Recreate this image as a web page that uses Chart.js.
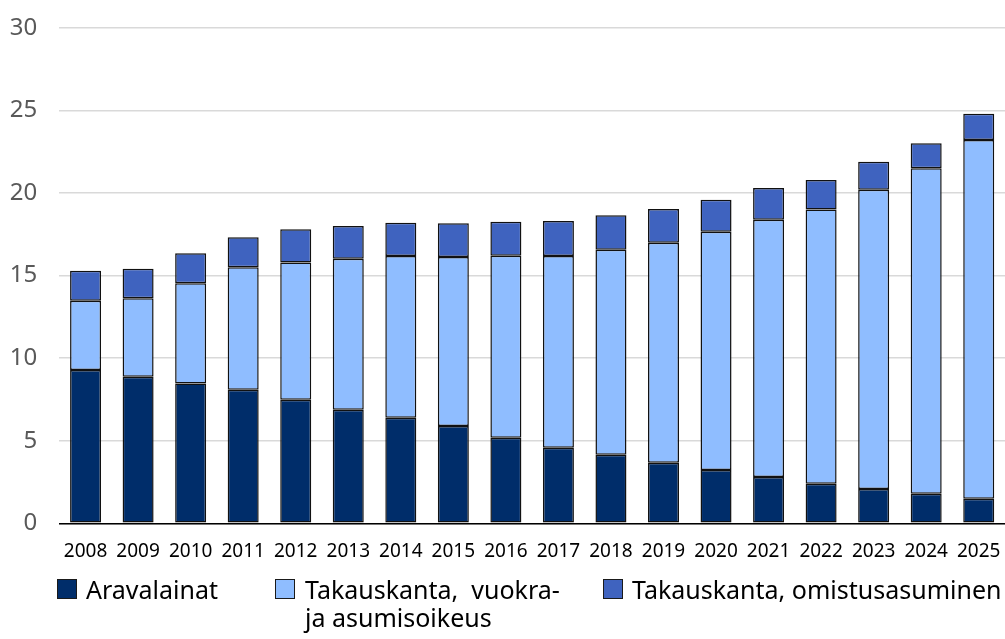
<!DOCTYPE html>
<html>
<head>
<meta charset="utf-8">
<script src="https://cdn.jsdelivr.net/npm/chart.js@4/dist/chart.umd.min.js"></script>
<style>
  html, body { margin: 0; padding: 0; background: #ffffff; }
  #wrap { position: relative; width: 1005px; height: 639px; overflow: hidden; font-family: "Noto Sans", "Open Sans", sans-serif; }
  #c { position: absolute; left: 0; top: 0; }
  .lg { position: absolute; font-size: 25px; color: #000; line-height: 28px; white-space: pre; }
  .sw { position: absolute; width: 20px; height: 20px; box-sizing: border-box; border: 1.5px solid #1a1a1a; }
</style>
</head>
<body>
<div id="wrap">
  <canvas id="c" width="1005" height="639"></canvas>
  <div class="sw" style="left:57px; top:579px; background:#002D6A;"></div>
  <div class="lg" style="left:86px; top:575px;">Aravalainat</div>
  <div class="sw" style="left:275px; top:579px; background:#8FBDFF;"></div>
  <div class="lg" style="left:305px; top:575px;">Takauskanta,  vuokra-
ja asumisoikeus</div>
  <div class="sw" style="left:603px; top:579px; background:#3F63BF;"></div>
  <div class="lg" style="left:632px; top:575px;">Takauskanta, omistusasuminen</div>
</div>
<script>
const years = ["2008","2009","2010","2011","2012","2013","2014","2015","2016","2017","2018","2019","2020","2021","2022","2023","2024","2025"];
const aravalainat = [9.28, 8.87, 8.47, 8.09, 7.48, 6.88, 6.39, 5.89, 5.18, 4.58, 4.15, 3.67, 3.23, 2.80, 2.40, 2.08, 1.79, 1.49];
const takausVuokra = [4.19, 4.75, 6.06, 7.41, 8.30, 9.13, 9.79, 10.23, 11.02, 11.60, 12.41, 13.31, 14.42, 15.58, 16.60, 18.11, 19.70, 21.71];
const takausOmistus = [1.82, 1.79, 1.81, 1.81, 2.02, 1.99, 2.02, 2.04, 2.06, 2.12, 2.08, 2.05, 1.94, 1.92, 1.78, 1.70, 1.51, 1.59];
const yTicks = [0, 5, 10, 15, 20, 25, 30];
const seriesNames = ["Aravalainat", "Takauskanta, vuokra- ja asumisoikeus", "Takauskanta, omistusasuminen"];

const common = { borderColor: "#111111", borderWidth: 1.5, borderSkipped: false, categoryPercentage: 1.0, barPercentage: 0.59 };

new Chart(document.getElementById("c"), {
  type: "bar",
  data: {
    labels: years,
    datasets: [
      Object.assign({ label: seriesNames[0], data: aravalainat, backgroundColor: "#002D6A" }, common),
      Object.assign({ label: seriesNames[1], data: takausVuokra, backgroundColor: "#8FBDFF" }, common),
      Object.assign({ label: seriesNames[2], data: takausOmistus, backgroundColor: "#3F63BF" }, common)
    ]
  },
  options: {
    responsive: false,
    devicePixelRatio: 1,
    animation: false,
    layout: { padding: { top: 27.7, left: 0, right: 0, bottom: 0 } },
    plugins: { legend: { display: false }, tooltip: { enabled: false } },
    scales: {
      x: {
        stacked: true,
        grid: { display: false, drawTicks: false },
        border: { display: true, color: "#000000", width: 1.5 },
        ticks: { color: "#000000", font: { family: "Noto Sans", size: 19 }, padding: 17, maxRotation: 0, autoSkip: false },
        afterFit: s => { s.height = 639 - 523.3; s.paddingLeft = 0; s.paddingRight = 0; }
      },
      y: {
        stacked: true,
        min: 0, max: 30,
        afterBuildTicks: s => { s.ticks = yTicks.map(v => ({ value: v })); },
        grid: { color: "#D9D9D9", lineWidth: 1.5, drawTicks: false },
        border: { display: false },
        ticks: { color: "#595959", font: { family: "Noto Sans", size: 24 }, padding: 22 },
        afterFit: s => { s.width = 59.3; s.paddingTop = 0; s.paddingBottom = 0; }
      }
    }
  }
});
</script>
</body>
</html>
